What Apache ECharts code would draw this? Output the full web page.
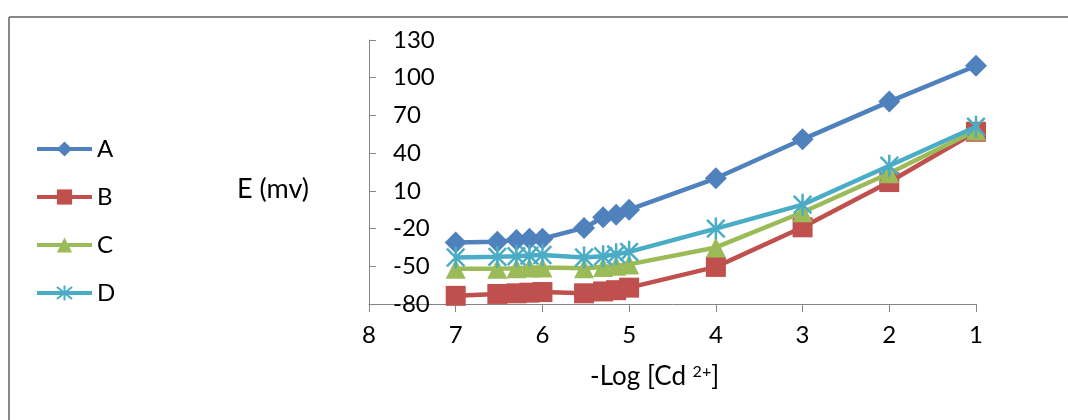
<!DOCTYPE html>
<html><head><meta charset="utf-8">
<script src="https://cdn.jsdelivr.net/npm/echarts@6/dist/echarts.min.js"></script>
<style>html,body{margin:0;padding:0;background:#fff}#c{width:1068px;height:420px}</style>
</head><body><div id="c"></div>
<script>
const logConc = [7, 6.52, 6.3, 6.15, 6, 5.52, 5.3, 5.15, 5, 4, 3, 2, 1];
const seriesNames = ['A', 'B', 'C', 'D'];
const valuesA = [-31, -30.5, -29, -28, -28, -19.5, -11, -9, -5, 20, 51, 81, 109.5];
const valuesB = [-73.5, -72, -71.5, -71, -70.5, -71.5, -70, -69, -67, -50.5, -19, 17, 57];
const valuesC = [-52, -52, -51.5, -51, -51, -51.5, -50.5, -49.5, -48.5, -35, -7, 24, 58];
const valuesD = [-43, -42.5, -42, -41.5, -41, -43, -42, -40.5, -38.5, -20, -1, 30, 61];
const yTicks = [-80, -50, -20, 10, 40, 70, 100, 130];
const xTicks = [8, 7, 6, 5, 4, 3, 2, 1];
const yTitle = 'E (mv)';
const xTitleMain = '-Log [Cd ';
const xTitleSup = '2+';
const xTitleEnd = ']';

const FONT = 'Lato';
const colors = ['#4F81BD', '#C0504D', '#9BBB59', '#4BACC6'];
const symbols = ['diamond', 'rect', 'triangle', 'path://M2,2L18,18M18,2L2,18M10,0L10,20'];
const sizes = [22, 20, 20, 22];
const allValues = [valuesA, valuesB, valuesC, valuesD];

const chart = echarts.init(document.getElementById('c'), null, {renderer: 'canvas'});
const series = seriesNames.map((n, i) => ({
  name: n,
  type: 'line',
  data: logConc.map((x, j) => [x, allValues[i][j]]),
  symbol: symbols[i],
  symbolSize: sizes[i],
  symbolKeepAspect: true,
  lineStyle: {color: colors[i], width: 4.5},
  itemStyle: i === 3 ? {color: colors[i], borderColor: colors[i], borderWidth: 2.5}
                     : {color: colors[i], borderWidth: 0},
  emphasis: {disabled: true},
  animation: false,
  z: 2 + i
}));

chart.setOption({
  animation: false,
  color: colors,
  grid: {left: 369, right: 92, top: 40, bottom: 116, containLabel: false},
  xAxis: {
    type: 'value', inverse: true, min: 1, max: 8, interval: 1,
    axisLine: {onZero: false, lineStyle: {color: '#868686', width: 1}},
    axisTick: {show: true, inside: false, length: 8, lineStyle: {color: '#868686'}, customValues: xTicks},
    axisLabel: {fontFamily: FONT, fontSize: 24, color: '#000', margin: 19, customValues: xTicks},
    splitLine: {show: false}
  },
  yAxis: {
    type: 'value', min: -80, max: 130,
    axisLine: {show: true, onZero: false, lineStyle: {color: '#868686', width: 1}},
    axisTick: {show: true, inside: true, length: 7, lineStyle: {color: '#868686'}, customValues: yTicks},
    axisLabel: {inside: true, fontFamily: FONT, fontSize: 24, color: '#000', margin: 24, customValues: yTicks},
    splitLine: {show: false}
  },
  legend: {
    orient: 'vertical', left: 35, top: 137, padding: 0, itemWidth: 55, itemHeight: 19, itemGap: 24,
    data: seriesNames,
    lineStyle: {width: 4},
    textStyle: {fontFamily: FONT, fontSize: 24, color: '#000'}
  },
  graphic: [
    {type: 'line', shape: {x1: 9, y1: 17, x2: 1068, y2: 17}, style: {stroke: '#878787', lineWidth: 2}},
    {type: 'line', shape: {x1: 9, y1: 17, x2: 9, y2: 420}, style: {stroke: '#878787', lineWidth: 2}},
    {type: 'text', left: 237, top: 176, style: {text: yTitle, font: '27px Lato', fill: '#000'}},
    {type: 'text', left: 590, top: 364, style: {
      text: '{m|' + xTitleMain + '}{s|' + xTitleSup + '}{m|' + xTitleEnd + '}',
      rich: {m: {fontFamily: FONT, fontSize: 26, color: '#000'},
             s: {fontFamily: FONT, fontSize: 16, color: '#000', verticalAlign: 'top', padding: [0, 0, 10, 0]}}
    }}
  ],
  series: series
});
</script></body></html>
